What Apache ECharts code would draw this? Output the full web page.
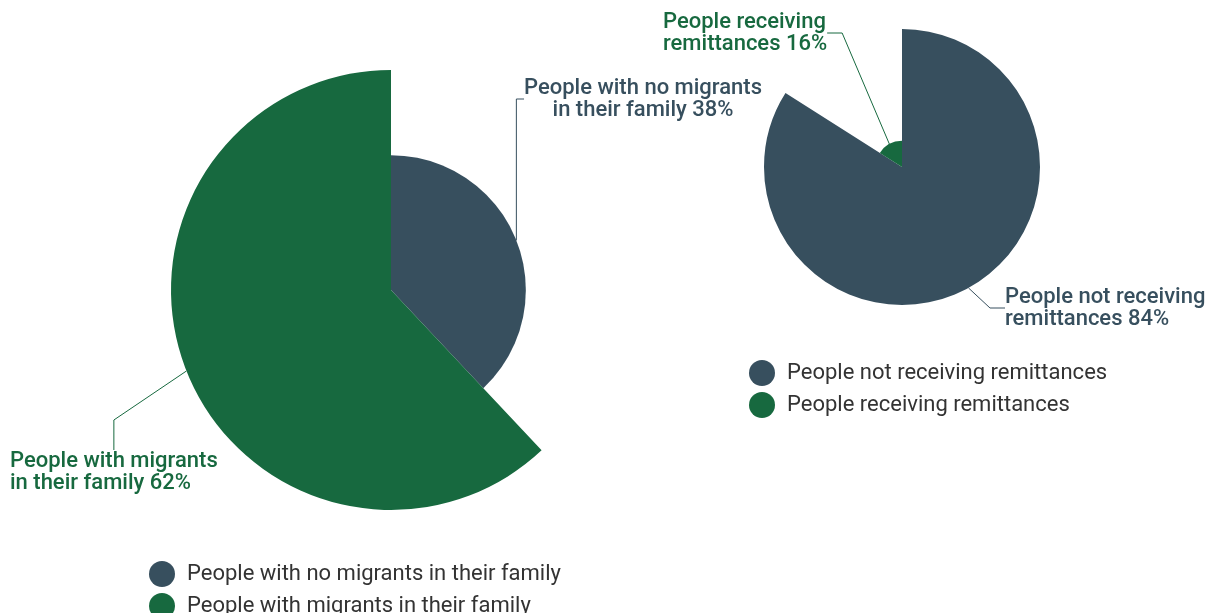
<!DOCTYPE html>
<html>
<head>
<meta charset="utf-8">
<script src="https://cdn.jsdelivr.net/npm/echarts@6/dist/echarts.min.js"></script>
<style>
  html, body { margin: 0; padding: 0; background: #fff; }
  #container { width: 1212px; height: 613px; }
</style>
</head>
<body>
<div id="container"></div>
<script>
// data
var familyNames = ['People with no migrants in their family', 'People with migrants in their family'];
var familyLabels = ['People with no migrants\nin their family', 'People with migrants\nin their family'];
var familyValues = [38, 62];

var remitNames = ['People not receiving remittances', 'People receiving remittances'];
var remitLabels = ['People not receiving\nremittances', 'People receiving\nremittances'];
var remitValues = [84, 16];

var colors = ['#374f5e', '#17693f'];

// where the labels sit (series index -> data index)
var labelSpots = [
    [{ x: 643, y: 99, align: 'center' }, { x: 10, y: 472, align: 'left' }],
    [{ x: 1005, y: 308, align: 'left' }, { x: 663, y: 33, align: 'left' }]
];

function makeData(names, labels, values) {
    return values.map(function (v, i) {
        return {
            name: names[i],
            value: v,
            itemStyle: { color: colors[i] },
            label: { color: colors[i], formatter: labels[i] + ' ' + v + '%' }
        };
    });
}

function legendFor(names, left, top) {
    return {
        orient: 'vertical',
        left: left,
        top: top,
        height: 80,
        icon: 'circle',
        itemWidth: 26,
        itemHeight: 26,
        itemGap: 6,
        textStyle: { fontSize: 22, color: '#333', padding: [0, 0, 0, 7] },
        data: names
    };
}

var myChart = echarts.init(document.getElementById('container'));
var option = {
    animation: false,
    textStyle: { fontFamily: 'Roboto' },
    legend: [
        legendFor(familyNames, 144, 556),
        legendFor(remitNames, 744, 355)
    ],
    series: [
        {
            type: 'pie',
            roseType: 'radius',
            center: [391, 290],
            radius: [0, 220],
            startAngle: 90,
            clockwise: true,
            label: { fontSize: 22, fontWeight: 500, lineHeight: 22, overflow: 'none' },
            labelLine: { show: true, length: 30, length2: 30, lineStyle: { width: 1 } },
            labelLayout: function (p) {
                var s = labelSpots[0][p.dataIndex];
                return { x: s.x, y: s.y, align: s.align, verticalAlign: 'middle' };
            },
            data: makeData(familyNames, familyLabels, familyValues)
        },
        {
            type: 'pie',
            roseType: 'radius',
            center: [902, 167],
            radius: [0, 138],
            startAngle: 90,
            clockwise: true,
            label: { fontSize: 22, fontWeight: 500, lineHeight: 22, overflow: 'none' },
            labelLine: { show: true, length: 15, length2: 15, lineStyle: { width: 1 } },
            labelLayout: function (p) {
                var s = labelSpots[1][p.dataIndex];
                return { x: s.x, y: s.y, align: s.align, verticalAlign: 'middle' };
            },
            data: makeData(remitNames, remitLabels, remitValues)
        }
    ]
};
myChart.setOption(option);
</script>
</body>
</html>
